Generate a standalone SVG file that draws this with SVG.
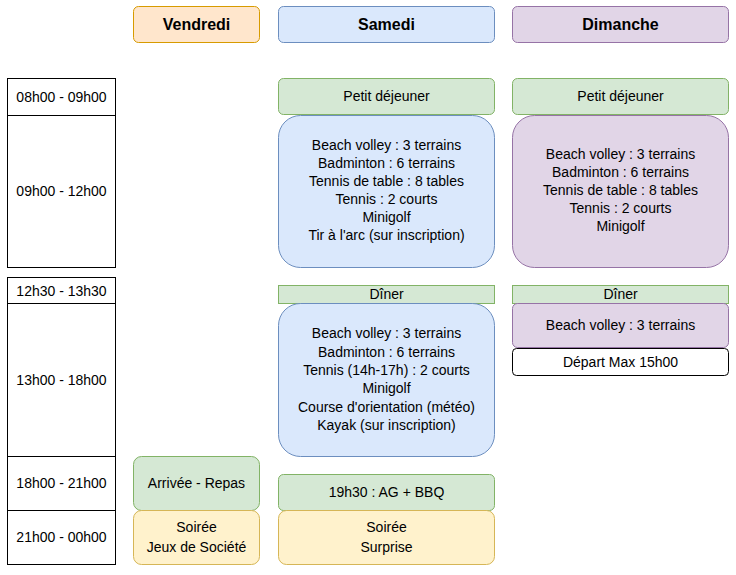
<svg xmlns="http://www.w3.org/2000/svg" width="736" height="575" viewBox="0 0 736 575">
<style>
text{font-family:"Liberation Sans",Arial,sans-serif;font-size:14px;fill:#000;text-anchor:middle}
.h{font-weight:bold;font-size:16px}
.t{fill:#fff;stroke:#000}
.o{fill:#ffe6cc;stroke:#d79b00}
.b{fill:#dae8fc;stroke:#6c8ebf}
.p{fill:#e1d5e7;stroke:#9673a6}
.g{fill:#d5e8d4;stroke:#82b366}
.y{fill:#fff2cc;stroke:#d6b656}
</style>
<rect width="736" height="575" fill="#fff"/>
<g id="h-vendredi"><rect class="o" x="133.5" y="6.5" width="126" height="36" rx="5"/><text class="h" x="196.5" y="30">Vendredi</text></g>
<g id="h-samedi"><rect class="b" x="278.5" y="6.5" width="216" height="36" rx="5"/><text class="h" x="386.5" y="30">Samedi</text></g>
<g id="h-dimanche"><rect class="p" x="512.5" y="6.5" width="216" height="36" rx="5"/><text class="h" x="620.5" y="30">Dimanche</text></g>
<g id="times">
<g id="t1"><rect class="t" x="7.5" y="78.5" width="108" height="37"/><text x="61.5" y="102">08h00 - 09h00</text></g>
<g id="t2"><rect class="t" x="7.5" y="115.5" width="108" height="152"/><text x="61.5" y="196">09h00 - 12h00</text></g>
<g id="t3"><rect class="t" x="7.5" y="277.5" width="108" height="26"/><text x="61.5" y="296">12h30 - 13h30</text></g>
<g id="t4"><rect class="t" x="7.5" y="303.5" width="108" height="153"/><text x="61.5" y="385">13h00 - 18h00</text></g>
<g id="t5"><rect class="t" x="7.5" y="456.5" width="108" height="54"/><text x="61.5" y="488">18h00 - 21h00</text></g>
<g id="t6"><rect class="t" x="7.5" y="510.5" width="108" height="54"/><text x="61.5" y="542">21h00 - 00h00</text></g>
</g>
<g id="s-pdej"><rect class="g" x="278.5" y="78.5" width="216" height="36" rx="5"/><text x="386.5" y="101">Petit déjeuner</text></g>
<g id="s-matin"><rect class="b" x="278.5" y="115.5" width="216" height="152" rx="22"/>
<text x="386.5" y="150">Beach volley : 3 terrains</text><text x="386.5" y="168">Badminton : 6 terrains</text><text x="386.5" y="186">Tennis de table : 8 tables</text><text x="386.5" y="204">Tennis : 2 courts</text><text x="386.5" y="222">Minigolf</text><text x="386.5" y="240">Tir à l'arc (sur inscription)</text></g>
<g id="s-diner"><rect class="g" x="278.5" y="285.5" width="216" height="18"/><text x="386.5" y="299">Dîner</text></g>
<g id="s-aprem"><rect class="b" x="278.5" y="303.5" width="216" height="153" rx="22"/>
<text x="386.5" y="338">Beach volley : 3 terrains</text><text x="386.5" y="357">Badminton : 6 terrains</text><text x="386.5" y="375">Tennis (14h-17h) : 2 courts</text><text x="386.5" y="393">Minigolf</text><text x="386.5" y="412">Course d'orientation (météo)</text><text x="386.5" y="430">Kayak (sur inscription)</text></g>
<g id="s-ag"><rect class="g" x="278.5" y="474.5" width="216" height="36" rx="5"/><text x="386.5" y="497">19h30 : AG + BBQ</text></g>
<g id="s-soiree"><rect class="y" x="278.5" y="510.5" width="216" height="54" rx="8"/><text x="386.5" y="532">Soirée</text><text x="386.5" y="552">Surprise</text></g>
<g id="d-pdej"><rect class="g" x="512.5" y="78.5" width="216" height="36" rx="5"/><text x="620.5" y="101">Petit déjeuner</text></g>
<g id="d-matin"><rect class="p" x="512.5" y="115.5" width="216" height="152" rx="22"/>
<text x="620.5" y="159">Beach volley : 3 terrains</text><text x="620.5" y="177">Badminton : 6 terrains</text><text x="620.5" y="195">Tennis de table : 8 tables</text><text x="620.5" y="213">Tennis : 2 courts</text><text x="620.5" y="231">Minigolf</text></g>
<g id="d-diner"><rect class="g" x="512.5" y="285.5" width="216" height="18"/><text x="620.5" y="299">Dîner</text></g>
<g id="d-beach"><rect class="p" x="512.5" y="303.5" width="216" height="44" rx="5"/><text x="620.5" y="330">Beach volley : 3 terrains</text></g>
<g id="d-depart"><rect class="t" x="512.5" y="348.5" width="216" height="27" rx="4"/><text x="620.5" y="367">Départ Max 15h00</text></g>
<g id="v-arrivee"><rect class="g" x="133.5" y="456.5" width="126" height="54" rx="8"/><text x="196.5" y="488">Arrivée - Repas</text></g>
<g id="v-soiree"><rect class="y" x="133.5" y="510.5" width="126" height="54" rx="8"/><text x="196.5" y="532">Soirée</text><text x="196.5" y="552">Jeux de Société</text></g>
<g id="connectors"/>
</svg>
